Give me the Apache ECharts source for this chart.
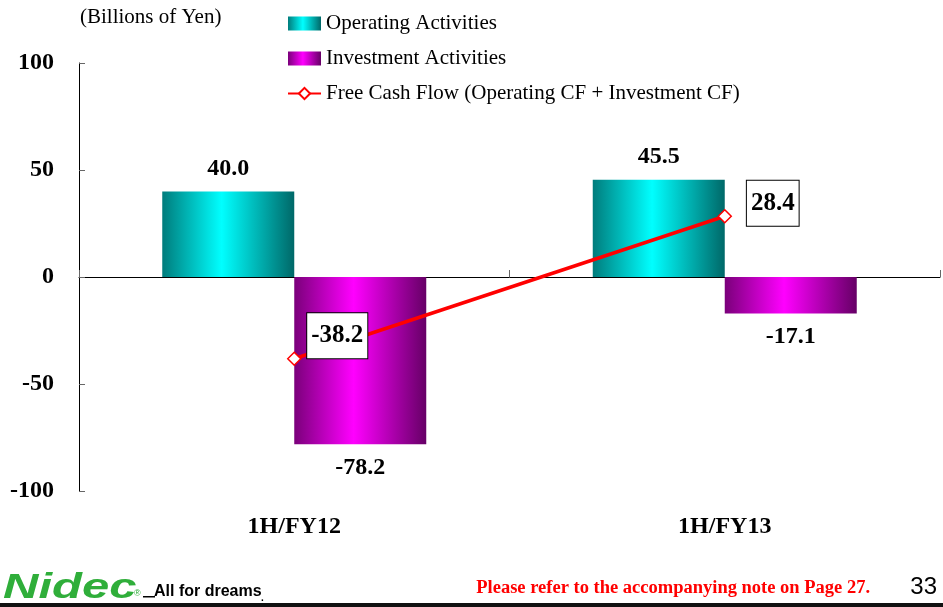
<!DOCTYPE html>
<html>
<head>
<meta charset="utf-8">
<script src="https://cdn.jsdelivr.net/npm/echarts@6/dist/echarts.min.js"></script>
<style>
html,body{margin:0;padding:0;background:#fff;}
#chart{width:943px;height:607px;}
</style>
</head>
<body>
<div id="chart"></div>
<script>
// ---- data ----
var categories = ['1H/FY12', '1H/FY13'];
var operatingCF = [40.0, 45.5];
var investmentCF = [-78.2, -17.1];
var freeCF = [-38.2, 28.4];
var yTicks = [-100, -50, 0, 50, 100];
var seriesNames = ['Operating Activities', 'Investment Activities', 'Free Cash Flow (Operating CF + Investment CF)'];
var unitText = '(Billions of Yen)';
var noteText = 'Please refer to the accompanying note on Page 27.';
var pageNo = '33';

var SERIF = '"Liberation Serif", "Times New Roman", serif';
var SANS = '"Liberation Sans", Arial, sans-serif';

function grad(edgeL, mid, edgeR) {
  return new echarts.graphic.LinearGradient(0, 0, 1, 0, [
    {offset: 0, color: edgeL},
    {offset: 0.45, color: mid},
    {offset: 1, color: edgeR}
  ]);
}

function barData(arr) {
  return arr.map(function (v) {
    return {value: v, label: {position: v >= 0 ? 'top' : 'bottom'}};
  });
}

var fcfOffsets = [[43, -23], [48, -13]];
var fcfPadding = [[10, 4], [10, 4]];
var fcfData = freeCF.map(function (v, i) {
  return {value: v, label: {offset: fcfOffsets[i], padding: fcfPadding[i]}};
});

var chart = echarts.init(document.getElementById('chart'));
chart.setOption({
  animation: false,
  backgroundColor: '#ffffff',
  grid: {left: 79, right: 3, top: 63, bottom: 116, containLabel: false},
  legend: {
    orient: 'vertical',
    left: 287,
    top: 13,
    padding: 0,
    itemWidth: 33,
    itemHeight: 14,
    itemGap: 14,
    data: [
      {name: seriesNames[0], icon: 'rect'},
      {name: seriesNames[1], icon: 'rect'},
      {name: seriesNames[2]}
    ],
    textStyle: {fontFamily: SERIF, fontSize: 21, color: '#000', lineHeight: 20, padding: [0, 0, 0, 0]}
  },
  xAxis: [{
    type: 'category',
    data: categories,
    boundaryGap: true,
    axisLine: {show: true, onZero: true, lineStyle: {color: '#000', width: 1}},
    axisTick: {show: true, inside: true, length: 7, lineStyle: {color: '#666'}},
    axisLabel: {show: false},
    splitLine: {show: false}
  }, {
    type: 'category',
    data: categories,
    position: 'bottom',
    boundaryGap: true,
    axisLine: {show: false, onZero: false},
    axisTick: {show: false},
    axisLabel: {show: true, margin: 24, fontFamily: SERIF, fontWeight: 'bold', fontSize: 24, color: '#000'},
    splitLine: {show: false}
  }],
  yAxis: {
    type: 'value',
    min: yTicks[0],
    max: yTicks[yTicks.length - 1],
    interval: 50,
    axisLine: {show: true, lineStyle: {color: '#000', width: 1}},
    axisTick: {show: true, inside: true, length: 6, lineStyle: {color: '#666'}},
    splitLine: {show: false},
    axisLabel: {margin: 25, fontFamily: SERIF, fontWeight: 'bold', fontSize: 24, color: '#000'}
  },
  series: [{
    name: seriesNames[0],
    type: 'bar',
    xAxisIndex: 0,
    barWidth: 132,
    barGap: '0%',
    data: barData(operatingCF),
    itemStyle: {color: grad('#007c7c', '#00ffff', '#006868')},
    label: {show: true, distance: 11, fontFamily: SERIF, fontWeight: 'bold', fontSize: 24, color: '#000',
      formatter: function (p) { return p.value.toFixed(1); }}
  }, {
    name: seriesNames[1],
    type: 'bar',
    xAxisIndex: 0,
    barWidth: 132,
    barGap: '0%',
    data: barData(investmentCF),
    itemStyle: {color: grad('#7a007a', '#ff00ff', '#660066')},
    label: {show: true, distance: 11, fontFamily: SERIF, fontWeight: 'bold', fontSize: 24, color: '#000',
      formatter: function (p) { return p.value.toFixed(1); }}
  }, {
    name: seriesNames[2],
    type: 'line',
    xAxisIndex: 0,
    data: fcfData,
    symbol: 'diamond',
    symbolSize: 13,
    z: 5,
    lineStyle: {color: '#ff0000', width: 3.5},
    itemStyle: {color: '#ffffff', borderColor: '#ff0000', borderWidth: 1.5},
    label: {
      show: true, position: 'inside',
      fontFamily: SERIF, fontWeight: 'bold', fontSize: 25, color: '#000',
      backgroundColor: '#fff', borderColor: '#000', borderWidth: 1,
      formatter: function (p) { return p.value.toFixed(1); }
    }
  }],
  graphic: [
    {type: 'text', x: 80, y: 17, style: {text: unitText, font: '21px ' + SERIF, fill: '#000', textVerticalAlign: 'middle'}},
    {type: 'rect', shape: {x: 0, y: 603, width: 943, height: 4}, style: {fill: '#111'}},
    {type: 'text', x: 3, y: 571, scaleX: 1.4, scaleY: 1, style: {text: 'Nidec', font: 'italic 900 35px ' + SANS, fill: '#2fae3a', textVerticalAlign: 'top'}},
    {type: 'text', x: 134, y: 594, style: {text: '\u00ae', font: '9px ' + SANS, fill: '#2fae3a', textVerticalAlign: 'middle'}},
    {type: 'rect', shape: {x: 143, y: 596, width: 12, height: 1.5}, style: {fill: '#000'}},
    {type: 'text', x: 154, y: 592, style: {text: 'All for dreams', font: 'bold 16px ' + SANS, fill: '#000', textVerticalAlign: 'middle'}},
    {type: 'text', x: 261, y: 598, style: {text: '.', font: 'bold 10px ' + SANS, fill: '#000', textVerticalAlign: 'middle'}},
    {type: 'text', x: 870, y: 588, style: {text: noteText, font: 'bold 18.5px ' + SERIF, fill: '#ff0000', textAlign: 'right', textVerticalAlign: 'middle'}},
    {type: 'text', x: 937, y: 587, style: {text: pageNo, font: '24px ' + SANS, fill: '#000', textAlign: 'right', textVerticalAlign: 'middle'}}
  ]
});
</script>
</body>
</html>
